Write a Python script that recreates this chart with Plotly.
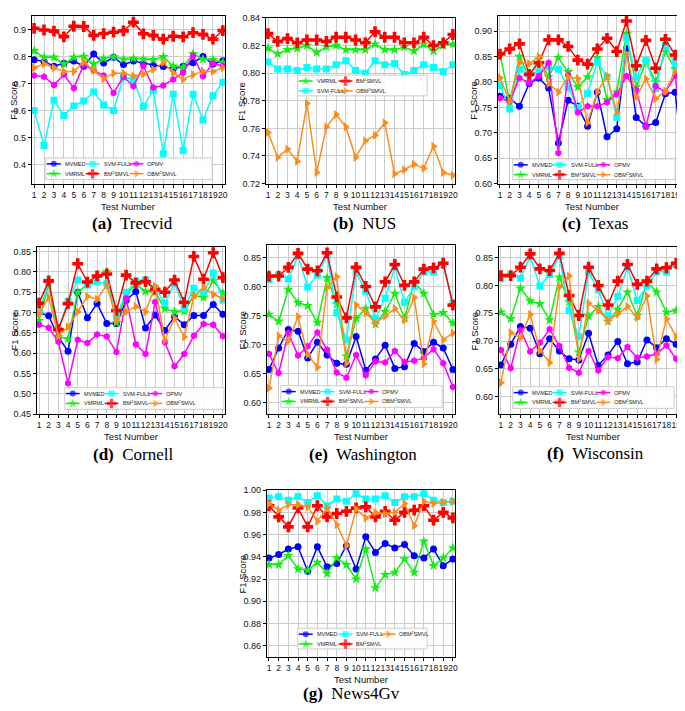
import plotly.graph_objects as go

W, H = 685, 711

test_numbers = [1, 2, 3, 4, 5, 6, 7, 8, 9, 10, 11, 12, 13, 14, 15, 16, 17, 18, 19, 20]

# ---------------- (a) Trecvid ----------------
trecvid_mvmed = [0.788, 0.782, 0.764, 0.775, 0.783, 0.764, 0.809, 0.776, 0.797, 0.770,
                 0.783, 0.775, 0.769, 0.763, 0.754, 0.764, 0.777, 0.800, 0.772, 0.784]
trecvid_vmrml = [0.821, 0.797, 0.797, 0.772, 0.797, 0.800, 0.772, 0.793, 0.799, 0.790,
                 0.793, 0.790, 0.788, 0.799, 0.764, 0.760, 0.810, 0.790, 0.788, 0.778]
trecvid_svm = [0.600, 0.471, 0.638, 0.582, 0.617, 0.635, 0.669, 0.621, 0.600, 0.724,
               0.716, 0.615, 0.675, 0.440, 0.660, 0.452, 0.660, 0.565, 0.655, 0.705]
trecvid_bm = [0.904, 0.898, 0.894, 0.873, 0.912, 0.911, 0.878, 0.885, 0.890, 0.895,
              0.927, 0.884, 0.878, 0.864, 0.875, 0.873, 0.888, 0.882, 0.864, 0.896]
trecvid_opmv = [0.730, 0.725, 0.695, 0.733, 0.683, 0.770, 0.748, 0.730, 0.665, 0.725,
                0.690, 0.765, 0.685, 0.693, 0.715, 0.740, 0.803, 0.727, 0.775, 0.765]
trecvid_obm = [0.758, 0.773, 0.758, 0.745, 0.745, 0.780, 0.748, 0.718, 0.738, 0.738,
               0.728, 0.735, 0.752, 0.778, 0.740, 0.715, 0.733, 0.745, 0.745, 0.758]

# ---------------- (b) NUS ----------------
nus_vmrml = [0.818, 0.814, 0.817, 0.818, 0.820, 0.815, 0.819, 0.820, 0.817, 0.817,
             0.817, 0.821, 0.817, 0.817, 0.819, 0.816, 0.821, 0.816, 0.820, 0.821]
nus_svm = [0.808, 0.803, 0.803, 0.802, 0.804, 0.803, 0.803, 0.806, 0.809, 0.802,
           0.800, 0.809, 0.806, 0.807, 0.799, 0.802, 0.806, 0.804, 0.801, 0.806]
nus_bm = [0.8286, 0.823, 0.825, 0.822, 0.824, 0.824, 0.823, 0.826, 0.826, 0.824,
          0.822, 0.830, 0.826, 0.826, 0.822, 0.822, 0.826, 0.820, 0.822, 0.828]
nus_obm = [0.757, 0.739, 0.745, 0.736, 0.778, 0.728, 0.761, 0.770, 0.761, 0.739,
           0.751, 0.755, 0.764, 0.727, 0.730, 0.734, 0.731, 0.747, 0.728, 0.726]

# ---------------- (c) Texas ----------------
texas_mvmed = [0.772, 0.768, 0.752, 0.797, 0.808, 0.788, 0.680, 0.764, 0.752, 0.713,
               0.780, 0.692, 0.708, 0.866, 0.730, 0.713, 0.720, 0.777, 0.780, 0.607]
texas_vmrml = [0.855, 0.760, 0.850, 0.810, 0.845, 0.810, 0.848, 0.820, 0.790, 0.810,
               0.848, 0.765, 0.780, 0.895, 0.790, 0.840, 0.800, 0.860, 0.825, 0.758]
texas_svm = [0.793, 0.747, 0.825, 0.815, 0.820, 0.830, 0.825, 0.790, 0.750, 0.778,
             0.840, 0.810, 0.730, 0.887, 0.810, 0.843, 0.787, 0.872, 0.835, 0.780]
texas_bm = [0.855, 0.865, 0.875, 0.815, 0.838, 0.883, 0.883, 0.870, 0.843, 0.835,
            0.865, 0.886, 0.860, 0.920, 0.832, 0.882, 0.827, 0.884, 0.853, 0.838]
texas_opmv = [0.768, 0.762, 0.808, 0.798, 0.812, 0.838, 0.660, 0.814, 0.740, 0.752,
              0.752, 0.760, 0.776, 0.812, 0.784, 0.712, 0.792, 0.780, 0.812, 0.672]
texas_obm = [0.808, 0.762, 0.838, 0.836, 0.850, 0.797, 0.780, 0.810, 0.807, 0.720,
             0.780, 0.812, 0.740, 0.855, 0.770, 0.806, 0.767, 0.782, 0.822, 0.796]

# ---------------- (d) Cornell ----------------
cornell_mvmed = [0.700, 0.692, 0.640, 0.605, 0.750, 0.687, 0.722, 0.673, 0.673, 0.730,
                 0.752, 0.662, 0.694, 0.656, 0.690, 0.670, 0.693, 0.693, 0.720, 0.696]
cornell_vmrml = [0.680, 0.770, 0.640, 0.635, 0.750, 0.770, 0.785, 0.800, 0.675, 0.745,
                 0.770, 0.752, 0.750, 0.710, 0.702, 0.703, 0.742, 0.737, 0.778, 0.748]
cornell_svm = [0.700, 0.775, 0.660, 0.728, 0.780, 0.768, 0.775, 0.772, 0.690, 0.750,
               0.777, 0.780, 0.760, 0.723, 0.772, 0.710, 0.760, 0.750, 0.797, 0.730]
cornell_bm = [0.723, 0.778, 0.658, 0.722, 0.820, 0.775, 0.790, 0.795, 0.705, 0.792,
              0.773, 0.776, 0.757, 0.750, 0.780, 0.725, 0.838, 0.782, 0.847, 0.786]
cornell_opmv = [0.670, 0.663, 0.628, 0.526, 0.633, 0.625, 0.646, 0.641, 0.603, 0.735,
                0.622, 0.598, 0.726, 0.627, 0.568, 0.598, 0.643, 0.672, 0.670, 0.642]
cornell_obm = [0.697, 0.738, 0.643, 0.665, 0.702, 0.740, 0.733, 0.768, 0.682, 0.702,
               0.715, 0.702, 0.765, 0.632, 0.686, 0.640, 0.740, 0.762, 0.745, 0.734]

# ---------------- (e) Washington ----------------
washington_mvmed = [0.657, 0.694, 0.726, 0.723, 0.677, 0.704, 0.682, 0.668, 0.666, 0.714,
                    0.656, 0.675, 0.699, 0.659, 0.662, 0.702, 0.688, 0.704, 0.694, 0.657]
washington_vmrml = [0.752, 0.740, 0.795, 0.772, 0.767, 0.738, 0.815, 0.770, 0.680, 0.745,
                    0.762, 0.735, 0.757, 0.788, 0.745, 0.808, 0.788, 0.752, 0.755, 0.737]
washington_svm = [0.812, 0.820, 0.813, 0.852, 0.799, 0.820, 0.853, 0.755, 0.708, 0.824,
                  0.792, 0.745, 0.780, 0.833, 0.773, 0.800, 0.825, 0.825, 0.838, 0.772]
washington_bm = [0.818, 0.818, 0.833, 0.857, 0.830, 0.827, 0.858, 0.782, 0.746, 0.833,
                 0.800, 0.765, 0.808, 0.838, 0.802, 0.808, 0.830, 0.832, 0.840, 0.768]
washington_opmv = [0.684, 0.651, 0.720, 0.681, 0.697, 0.721, 0.691, 0.652, 0.643, 0.682,
                   0.647, 0.671, 0.669, 0.689, 0.670, 0.672, 0.677, 0.692, 0.668, 0.627]
washington_obm = [0.625, 0.715, 0.706, 0.748, 0.683, 0.661, 0.798, 0.817, 0.668, 0.768,
                  0.755, 0.737, 0.749, 0.762, 0.742, 0.781, 0.667, 0.740, 0.708, 0.720]

# ---------------- (f) Wisconsin ----------------
wisconsin_mvmed = [0.657, 0.694, 0.726, 0.723, 0.677, 0.704, 0.682, 0.668, 0.666, 0.714,
                   0.656, 0.675, 0.699, 0.659, 0.662, 0.702, 0.688, 0.704, 0.694, 0.657]
wisconsin_vmrml = [0.752, 0.740, 0.795, 0.772, 0.767, 0.738, 0.815, 0.770, 0.680, 0.745,
                   0.762, 0.735, 0.757, 0.788, 0.745, 0.808, 0.788, 0.752, 0.755, 0.737]
wisconsin_svm = [0.812, 0.820, 0.813, 0.852, 0.799, 0.820, 0.853, 0.755, 0.708, 0.824,
                 0.792, 0.745, 0.780, 0.833, 0.773, 0.800, 0.825, 0.825, 0.838, 0.772]
wisconsin_bm = [0.818, 0.818, 0.833, 0.857, 0.830, 0.827, 0.858, 0.782, 0.746, 0.833,
                0.800, 0.765, 0.808, 0.838, 0.802, 0.808, 0.830, 0.832, 0.840, 0.768]
wisconsin_opmv = [0.684, 0.651, 0.720, 0.681, 0.697, 0.721, 0.691, 0.652, 0.643, 0.682,
                  0.647, 0.671, 0.669, 0.689, 0.670, 0.672, 0.677, 0.692, 0.668, 0.627]
wisconsin_obm = [0.625, 0.715, 0.706, 0.748, 0.683, 0.661, 0.798, 0.817, 0.668, 0.768,
                 0.755, 0.737, 0.749, 0.762, 0.742, 0.781, 0.667, 0.740, 0.708, 0.720]

# ---------------- (g) News4Gv ----------------
news_mvmed = [0.939, 0.942, 0.947, 0.949, 0.927, 0.949, 0.931, 0.934, 0.950, 0.929,
              0.958, 0.944, 0.952, 0.948, 0.951, 0.941, 0.939, 0.947, 0.932, 0.938]
news_vmrml = [0.933, 0.933, 0.941, 0.929, 0.928, 0.935, 0.925, 0.939, 0.933, 0.920,
              0.947, 0.912, 0.924, 0.926, 0.938, 0.926, 0.954, 0.932, 0.939, 0.948]
news_svm = [0.993, 0.994, 0.991, 0.994, 0.989, 0.995, 0.986, 0.992, 0.990, 0.997,
            0.992, 0.992, 0.995, 0.989, 0.994, 0.994, 0.997, 0.991, 0.989, 0.990]
news_bm = [0.986, 0.976, 0.967, 0.984, 0.967, 0.986, 0.976, 0.979, 0.981, 0.984,
           0.985, 0.976, 0.981, 0.973, 0.980, 0.982, 0.986, 0.973, 0.980, 0.975]
news_obm = [0.988, 0.982, 0.987, 0.987, 0.985, 0.972, 0.984, 0.969, 0.950, 0.983,
            0.975, 0.980, 0.979, 0.980, 0.988, 0.968, 0.990, 0.988, 0.989, 0.990]

ticks_trecvid = [0.4, 0.5, 0.6, 0.7, 0.8, 0.9]
ticks_nus = [0.72, 0.74, 0.76, 0.78, 0.80, 0.82, 0.84]
ticks_texas = [0.60, 0.65, 0.70, 0.75, 0.80, 0.85, 0.90]
ticks_cornell = [0.45, 0.50, 0.55, 0.60, 0.65, 0.70, 0.75, 0.80, 0.85]
ticks_washington = [0.60, 0.65, 0.70, 0.75, 0.80, 0.85]
ticks_wisconsin = [0.60, 0.65, 0.70, 0.75, 0.80, 0.85]
ticks_news = [0.86, 0.88, 0.90, 0.92, 0.94, 0.96, 0.98, 1.00]

# ---------------- styles ----------------
STYLE = {
    "MVMED": dict(color="#0000ff", symbol="circle", size=7),
    "VMRML": dict(color="#11ee11", symbol="star", size=8),
    "SVM-FULL": dict(color="#00ffff", symbol="square", size=7),
    "BM2SMVL": dict(color="#ff0000", symbol="cross", size=9),
    "OPMV": dict(color="#ff00ff", symbol="hexagon", size=7),
    "OBM2SMVL": dict(color="#ff8c1a", symbol="triangle-right", size=8),
}
LABEL = {
    "MVMED": "MVMED", "VMRML": "VMRML", "SVM-FULL": "SVM-FULL",
    "BM2SMVL": "BM<sup>2</sup>SMVL", "OPMV": "OPMV", "OBM2SMVL": "OBM<sup>2</sup>SMVL",
}

TICK_FONT = "Liberation Sans, Arial, sans-serif"
SERIF = "Liberation Serif, Times New Roman, serif"

panels = [
    dict(letter="a", name="Trecvid", box=(24, 3, 218, 173), yr=(0.33, 0.95), ticks=ticks_trecvid, fmt=".1f",
         series=[("MVMED", trecvid_mvmed), ("VMRML", trecvid_vmrml), ("SVM-FULL", trecvid_svm),
                 ("BM2SMVL", trecvid_bm), ("OPMV", trecvid_opmv), ("OBM2SMVL", trecvid_obm)],
         leg=(38, 147, 205, 169), ncol=4, cap=(125, 213), ylab_x=6),
    dict(letter="b", name="NUS", box=(259, 5, 449, 173), yr=(0.72, 0.84), ticks=ticks_nus, fmt=".2f",
         series=[("VMRML", nus_vmrml), ("SVM-FULL", nus_svm), ("BM2SMVL", nus_bm), ("OBM2SMVL", nus_obm)],
         leg=(291, 63, 421, 84), ncol=3, cap=(358, 213), ylab_x=235),
    dict(letter="c", name="Texas", box=(492, 3, 682, 173), yr=(0.60, 0.93), ticks=ticks_texas, fmt=".2f",
         series=[("MVMED", texas_mvmed), ("VMRML", texas_vmrml), ("SVM-FULL", texas_svm),
                 ("BM2SMVL", texas_bm), ("OPMV", texas_opmv), ("OBM2SMVL", texas_obm)],
         leg=(507, 148, 670, 169), ncol=4, cap=(590, 213), ylab_x=468),
    dict(letter="d", name="Cornell", box=(29, 237, 218, 407), yr=(0.45, 0.862), ticks=ticks_cornell, fmt=".2f",
         series=[("MVMED", cornell_mvmed), ("VMRML", cornell_vmrml), ("SVM-FULL", cornell_svm),
                 ("BM2SMVL", cornell_bm), ("OPMV", cornell_opmv), ("OBM2SMVL", cornell_obm)],
         leg=(57, 380, 217, 402), ncol=4, cap=(126, 448), ylab_x=6),
    dict(letter="e", name="Washington", box=(260, 235, 449, 407), yr=(0.58, 0.872), ticks=ticks_washington, fmt=".2f",
         series=[("MVMED", washington_mvmed), ("VMRML", washington_vmrml), ("SVM-FULL", washington_svm),
                 ("BM2SMVL", washington_bm), ("OPMV", washington_opmv), ("OBM2SMVL", washington_obm)],
         leg=(274, 378, 436, 400), ncol=4, cap=(357, 448), ylab_x=236),
    dict(letter="f", name="Wisconsin", box=(493, 237, 683, 407), yr=(0.568, 0.87), ticks=ticks_wisconsin, fmt=".2f",
         series=[("MVMED", wisconsin_mvmed), ("VMRML", wisconsin_vmrml), ("SVM-FULL", wisconsin_svm),
                 ("BM2SMVL", wisconsin_bm), ("OPMV", wisconsin_opmv), ("OBM2SMVL", wisconsin_obm)],
         leg=(507, 379, 669, 401), ncol=4, cap=(590, 447), ylab_x=469),
    dict(letter="g", name="News4Gv", box=(260, 484, 449, 653), yr=(0.85, 1.00), ticks=ticks_news, fmt=".2f",
         series=[("MVMED", news_mvmed), ("VMRML", news_vmrml), ("SVM-FULL", news_svm),
                 ("BM2SMVL", news_bm), ("OBM2SMVL", news_obm)],
         leg=(291, 624, 421, 645), ncol=3, cap=(345, 690), ylab_x=236),
]

COL_OFF = {4: [8, 47, 91, 125], 3: [8, 48, 91]}
ROW_OFF = [6, 16]


def px(x):
    return x / W


def py(y):
    return 1 - y / H


fig = go.Figure()
annotations = []
layout_axes = {}

for i, p in enumerate(panels):
    k = i + 1
    xa = "x" if k == 1 else f"x{k}"
    ya = "y" if k == 1 else f"y{k}"
    x0, y0, x1, y1 = p["box"]
    axis_common = dict(
        showline=True, mirror=True, linecolor="black", linewidth=1,
        ticks="outside", ticklen=3, tickcolor="black",
        showgrid=True, gridcolor="#cccccc", gridwidth=1, zeroline=False,
    )
    layout_axes[f"xaxis{'' if k == 1 else k}"] = dict(
        axis_common, domain=[px(x0), px(x1)], anchor=ya, tickangle=0,
        tickfont=dict(family=TICK_FONT, size=8.5, color="#111"),
        range=[0.78, 20.22], tickmode="array", tickvals=test_numbers,
        ticktext=[str(t) for t in test_numbers],
    )
    layout_axes[f"yaxis{'' if k == 1 else k}"] = dict(
        axis_common, domain=[py(y1), py(y0)], anchor=xa,
        tickfont=dict(family=TICK_FONT, size=9, color="#111"),
        range=list(p["yr"]), tickmode="array", tickvals=p["ticks"],
        ticktext=[format(t, p["fmt"]) for t in p["ticks"]],
    )
    for key, vals in p["series"]:
        st = STYLE[key]
        fig.add_trace(go.Scatter(
            x=test_numbers, y=vals, mode="lines+markers", name=key,
            xaxis=xa, yaxis=ya, showlegend=False,
            line=dict(color=st["color"], width=1.5),
            marker=dict(color=st["color"], symbol=st["symbol"], size=st["size"], line=dict(width=0)),
        ))
    # axis titles
    annotations.append(dict(x=px((x0 + x1) / 2), y=py(y1 + 23), xref="paper", yref="paper",
                            text="Test Number", showarrow=False, xanchor="center", yanchor="middle",
                            font=dict(family=TICK_FONT, size=9.5, color="#111")))
    annotations.append(dict(x=px(p["ylab_x"]), y=py((y0 + y1) / 2), xref="paper", yref="paper",
                            text="F1 Score", showarrow=False, textangle=-90, xanchor="center", yanchor="middle",
                            font=dict(family=TICK_FONT, size=9.5, color="#111")))
    # caption
    annotations.append(dict(x=px(p["cap"][0]), y=py(p["cap"][1]), xref="paper", yref="paper",
                            text=f"<b>({p['letter']})</b>  {p['name']}", showarrow=False,
                            xanchor="center", yanchor="middle",
                            font=dict(family=SERIF, size=17, color="black")))

# overlay axis in pixel coordinates for the legend boxes
layout_axes["xaxis8"] = dict(domain=[0, 1], range=[0, W], visible=False, anchor="y8", fixedrange=True)
layout_axes["yaxis8"] = dict(domain=[0, 1], range=[H, 0], visible=False, anchor="x8", fixedrange=True)

for p in panels:
    lx0, ly0, lx1, ly1 = p["leg"]
    fig.add_trace(go.Scatter(
        x=[lx0, lx1, lx1, lx0, lx0], y=[ly0, ly0, ly1, ly1, ly0], mode="lines",
        fill="toself", fillcolor="rgba(255,255,255,0.9)", line=dict(color="#cccccc", width=1),
        xaxis="x8", yaxis="y8", showlegend=False, hoverinfo="skip",
    ))
    n = len(p["series"])
    ncol = p["ncol"]
    nrow = -(-n // ncol)
    for j, (key, _) in enumerate(p["series"]):
        c, r = j // nrow, j % nrow
        mx = lx0 + COL_OFF[ncol][c]
        my = ly0 + ROW_OFF[r]
        st = STYLE[key]
        fig.add_trace(go.Scatter(
            x=[mx - 7, mx, mx + 7], y=[my, my, my], mode="lines+markers",
            xaxis="x8", yaxis="y8", showlegend=False, hoverinfo="skip",
            line=dict(color=st["color"], width=1.5),
            marker=dict(color=st["color"], symbol=st["symbol"], size=[0, st["size"] - 1, 0], line=dict(width=0)),
        ))
        annotations.append(dict(x=mx + 9, y=my, xref="x8", yref="y8", text=LABEL[key], showarrow=False,
                                xanchor="left", yanchor="middle",
                                font=dict(family=TICK_FONT, size=5.5, color="#222")))

fig.update_layout(
    width=W, height=H, margin=dict(l=0, r=0, t=0, b=0),
    paper_bgcolor="white", plot_bgcolor="rgba(0,0,0,0)",
    showlegend=False, annotations=annotations, **layout_axes,
)

fig.write_html("out.html")
